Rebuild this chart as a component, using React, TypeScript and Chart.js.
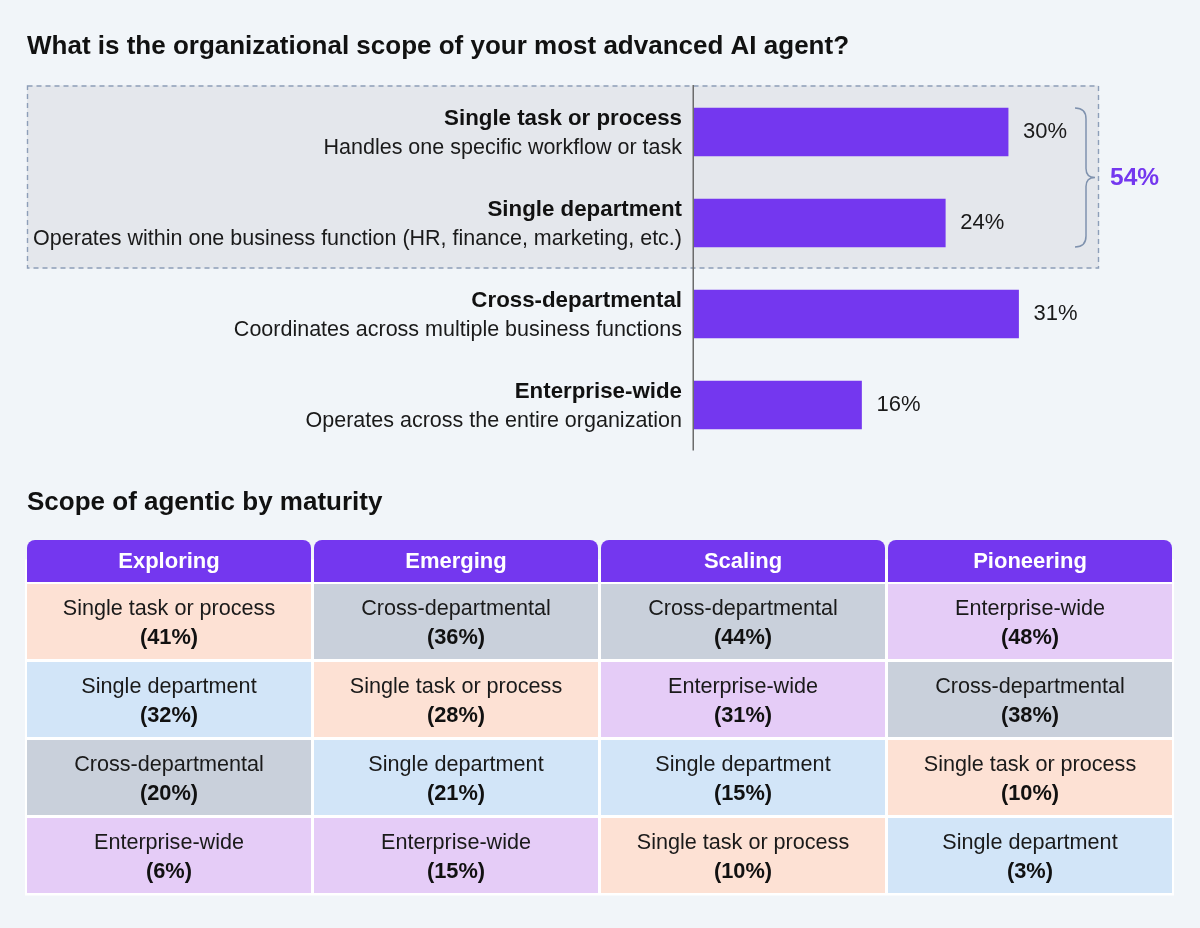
import React, { useEffect, useRef } from "react";
import { Chart, registerables } from "chart.js";

Chart.register(...registerables);

// ---- Top chart: organizational scope of the most advanced agent ----
const scopeNames = [
  "Single task or process",
  "Single department",
  "Cross-departmental",
  "Enterprise-wide",
];
const scopeDescriptions = [
  "Handles one specific workflow or task",
  "Operates within one business function (HR, finance, marketing, etc.)",
  "Coordinates across multiple business functions",
  "Operates across the entire organization",
];
const scopeShares = [30, 24, 31, 16];

// ---- Bottom table: scope ranking by maturity stage ----
const maturityLevels = ["Exploring", "Emerging", "Scaling", "Pioneering"];
const exploringScopes = ["Single task or process", "Single department", "Cross-departmental", "Enterprise-wide"];
const exploringShares = [41, 32, 20, 6];
const emergingScopes = ["Cross-departmental", "Single task or process", "Single department", "Enterprise-wide"];
const emergingShares = [36, 28, 21, 15];
const scalingScopes = ["Cross-departmental", "Enterprise-wide", "Single department", "Single task or process"];
const scalingShares = [44, 31, 15, 10];
const pioneeringScopes = ["Enterprise-wide", "Cross-departmental", "Single task or process", "Single department"];
const pioneeringShares = [48, 38, 10, 3];

const FONT = '"Liberation Sans", Arial, Helvetica, sans-serif';
const PURPLE = "#7437ef";
const PAGE_BG = "#f1f5f9";

const scopeColors: Record<string, string> = {
  "Single task or process": "#fde1d4",
  "Single department": "#d2e5f8",
  "Cross-departmental": "#c9d0db",
  "Enterprise-wide": "#e5ccf7",
};

const stageScopes = [exploringScopes, emergingScopes, scalingScopes, pioneeringScopes];
const stageShares = [exploringShares, emergingShares, scalingShares, pioneeringShares];

const HEADER_SPAN: [number, number] = [-0.564, -0.026];
const ROW_HEIGHT = 0.9615;

function ScopeBarChart() {
  const ref = useRef<HTMLCanvasElement | null>(null);
  useEffect(() => {
    if (!ref.current) return;

    const decorations = {
      id: "scopeDecorations",
      beforeDatasetsDraw(chart: any) {
        const { ctx } = chart;
        const y = chart.scales.y;
        const band = y.getPixelForValue(1) - y.getPixelForValue(0);
        const top = y.getPixelForValue(0) - band / 2 - 1;
        const bottom = (y.getPixelForValue(1) + y.getPixelForValue(2)) / 2;
        ctx.save();
        ctx.fillStyle = "#e4e7ec";
        ctx.fillRect(27, top, 1099 - 27, bottom - top);
        ctx.strokeStyle = "#8d9eb8";
        ctx.lineWidth = 1.4;
        ctx.setLineDash([5, 4]);
        ctx.strokeRect(27.5, top + 0.5, 1099 - 28, bottom - top - 1);
        ctx.restore();
      },
      afterDatasetsDraw(chart: any) {
        const { ctx, chartArea } = chart;
        const x = chart.scales.x;
        const y = chart.scales.y;
        const x0 = x.getPixelForValue(0);
        ctx.save();
        // value axis baseline
        ctx.strokeStyle = "#6b6b6b";
        ctx.lineWidth = 1.5;
        ctx.beginPath();
        ctx.moveTo(x0 - 0.75, chartArea.top - 1.5);
        ctx.lineTo(x0 - 0.75, chartArea.bottom);
        ctx.stroke();

        // title
        ctx.fillStyle = "#111";
        ctx.textBaseline = "middle";
        ctx.textAlign = "left";
        ctx.font = `bold 26px ${FONT}`;
        ctx.fillText("What is the organizational scope of your most advanced AI agent?", 27, 47);

        scopeNames.forEach((name, i) => {
          const cy = y.getPixelForValue(i);
          ctx.textAlign = "right";
          ctx.fillStyle = "#111";
          ctx.font = `bold 22.3px ${FONT}`;
          ctx.fillText(name, x0 - 12, cy - 13.5);
          ctx.font = `21.5px ${FONT}`;
          ctx.fillStyle = "#1a1a1a";
          ctx.fillText(scopeDescriptions[i], x0 - 12, cy + 16);
          ctx.textAlign = "left";
          ctx.font = `22px ${FONT}`;
          ctx.fillText(`${scopeShares[i]}%`, x.getPixelForValue(scopeShares[i]) + 15, cy);
        });

        // brace grouping the first two scopes
        const barHalf = 24;
        const bTop = y.getPixelForValue(0) - barHalf;
        const bBot = y.getPixelForValue(1) + barHalf;
        const mid = (bTop + bBot) / 2;
        ctx.strokeStyle = "#7f92ae";
        ctx.lineWidth = 1.5;
        ctx.beginPath();
        ctx.moveTo(1075, bTop);
        ctx.quadraticCurveTo(1086, bTop, 1086, bTop + 11);
        ctx.lineTo(1086, mid - 9);
        ctx.quadraticCurveTo(1086, mid, 1095, mid);
        ctx.quadraticCurveTo(1086, mid, 1086, mid + 9);
        ctx.lineTo(1086, bBot - 11);
        ctx.quadraticCurveTo(1086, bBot, 1075, bBot);
        ctx.stroke();

        ctx.fillStyle = PURPLE;
        ctx.font = `bold 24.5px ${FONT}`;
        ctx.textAlign = "left";
        ctx.fillText(`${scopeShares[0] + scopeShares[1]}%`, 1110, mid + 1);
        ctx.restore();
      },
    };

    const chart = new Chart(ref.current, {
      type: "bar",
      data: {
        labels: scopeNames,
        datasets: [
          {
            data: scopeShares,
            backgroundColor: PURPLE,
            barThickness: 48,
            categoryPercentage: 1,
          },
        ],
      },
      options: {
        indexAxis: "y",
        responsive: false,
        maintainAspectRatio: false,
        animation: false,
        layout: { padding: { left: 694, right: 34.85, top: 86.5, bottom: 19.5 } },
        scales: {
          x: { type: "linear", min: 0, max: 45, display: false },
          y: { type: "category", display: false },
        },
        plugins: { legend: { display: false }, tooltip: { enabled: false } },
      },
      plugins: [decorations],
    } as any);
    return () => chart.destroy();
  }, []);
  return (
    <canvas
      ref={ref}
      width={1200}
      height={470}
      style={{ position: "absolute", left: 0, top: 0, width: 1200, height: 470, display: "block" }}
    />
  );
}

function MaturityTable() {
  const ref = useRef<HTMLCanvasElement | null>(null);
  useEffect(() => {
    if (!ref.current) return;

    const rankDatasets = [0, 1, 2, 3].map((rank) => ({
      label: `rank${rank + 1}`,
      data: maturityLevels.map(() => [rank, rank + ROW_HEIGHT]),
      backgroundColor: maturityLevels.map((_, c) => scopeColors[stageScopes[c][rank]]),
      grouped: false,
      borderSkipped: false,
    }));

    const tableText = {
      id: "tableText",
      beforeDatasetsDraw(chart: any) {
        const { ctx } = chart;
        const y = chart.scales.y;
        ctx.save();
        ctx.fillStyle = "#ffffff";
        const top = y.getPixelForValue(HEADER_SPAN[0] + 0.25);
        const bottom = y.getPixelForValue(4) - 0.5;
        ctx.fillRect(25, top, 1174 - 25, bottom - top);
        ctx.restore();
      },
      afterDatasetsDraw(chart: any) {
        const { ctx } = chart;
        const x = chart.scales.x;
        const y = chart.scales.y;
        ctx.save();
        ctx.textBaseline = "middle";
        ctx.textAlign = "left";
        ctx.fillStyle = "#111";
        ctx.font = `bold 26px ${FONT}`;
        ctx.fillText("Scope of agentic by maturity", 27, 33);

        ctx.textAlign = "center";
        maturityLevels.forEach((level, c) => {
          const cx = x.getPixelForValue(c);
          ctx.fillStyle = "#ffffff";
          ctx.font = `bold 22px ${FONT}`;
          ctx.fillText(level, cx, y.getPixelForValue((HEADER_SPAN[0] + HEADER_SPAN[1]) / 2) + 1);
          stageScopes[c].forEach((scope, r) => {
            const cy = y.getPixelForValue(r + ROW_HEIGHT / 2);
            ctx.fillStyle = "#1a1a1a";
            ctx.font = `21.6px ${FONT}`;
            ctx.fillText(scope, cx, cy - 12.5);
            ctx.fillStyle = "#111";
            ctx.font = `bold 21.8px ${FONT}`;
            ctx.fillText(`(${stageShares[c][r]}%)`, cx, cy + 16);
          });
        });
        ctx.restore();
      },
    };

    const chart = new Chart(ref.current, {
      type: "bar",
      data: {
        labels: maturityLevels,
        datasets: [
          {
            label: "header",
            data: maturityLevels.map(() => HEADER_SPAN),
            backgroundColor: PURPLE,
            grouped: false,
            borderSkipped: false,
            borderRadius: { topLeft: 8, topRight: 8, bottomLeft: 0, bottomRight: 0 },
          },
          ...rankDatasets,
        ],
      },
      options: {
        responsive: false,
        maintainAspectRatio: false,
        animation: false,
        datasets: { bar: { categoryPercentage: 284 / 287, barPercentage: 1 } },
        layout: { padding: { left: 25.5, right: 26.5, top: 67.2, bottom: 32 } },
        scales: {
          x: { type: "category", display: false },
          y: { type: "linear", reverse: true, min: -0.6, max: 4, display: false },
        },
        plugins: { legend: { display: false }, tooltip: { enabled: false } },
      },
      plugins: [tableText],
    } as any);
    return () => chart.destroy();
  }, []);
  return (
    <canvas
      ref={ref}
      width={1200}
      height={458}
      style={{ position: "absolute", left: 0, top: 470, width: 1200, height: 458, display: "block" }}
    />
  );
}

export default function App() {
  return (
    <div
      style={{
        position: "absolute",
        left: 0,
        top: 0,
        width: 1200,
        height: 928,
        background: PAGE_BG,
        overflow: "hidden",
      }}
    >
      <ScopeBarChart />
      <MaturityTable />
    </div>
  );
}
